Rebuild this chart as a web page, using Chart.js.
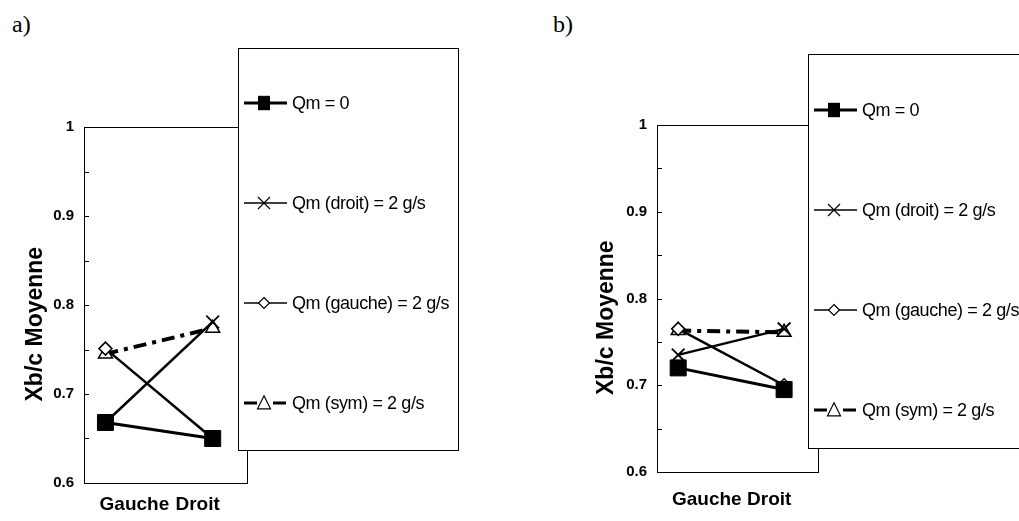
<!DOCTYPE html>
<html>
<head>
<meta charset="utf-8">
<script src="https://cdn.jsdelivr.net/npm/chart.js@4.4.1/dist/chart.umd.min.js"></script>
<style>
  body { margin: 0; background: #fff; width: 1019px; height: 521px; overflow: hidden; position: relative; }
  canvas { position: absolute; top: 0; }
  .tag { position: absolute; top: 11px; font: 24px "Liberation Serif", serif; color: #000; }
</style>
</head>
<body>
<div class="tag" style="left:12px">a)</div>
<div class="tag" style="left:553px">b)</div>
<canvas id="chartA" width="509" height="521" style="left:0"></canvas>
<canvas id="chartB" width="510" height="521" style="left:509px"></canvas>
<script>
// categories and series names
var categories = ['Gauche', 'Droit'];
var seriesNames = ['Qm = 0', 'Qm (droit) = 2 g/s', 'Qm (gauche) = 2 g/s', 'Qm (sym) = 2 g/s'];

// panel a)
var qm0A    = [0.668, 0.650];
var droitA  = [0.668, 0.781];
var gaucheA = [0.751, 0.650];
var symA    = [0.745, 0.774];

// panel b)
var qm0B    = [0.720, 0.695];
var droitB  = [0.735, 0.765];
var gaucheB = [0.765, 0.700];
var symB    = [0.763, 0.761];

// y axis
var yMin = 0.6, yMax = 1, yStep = 0.05;
var yTitle = 'Xb/c Moyenne';

// where the category names sit along x (x scale units)
var labelPos = [0.27, 0.86];

function toPoints(vals) {
  return vals.map(function (v, i) { return { x: i, y: v }; });
}

function drawMark(ctx, style, x, y, r, fill, lw) {
  ctx.save();
  ctx.setLineDash([]);
  ctx.lineWidth = lw;
  ctx.strokeStyle = '#000';
  ctx.fillStyle = fill;
  ctx.beginPath();
  if (style === 'rect') {
    ctx.rect(x - r * 0.5, y - r * 0.6, r, r * 1.2);
    ctx.fill();
  } else if (style === 'crossRot') {
    ctx.moveTo(x - r / 2, y - r / 2); ctx.lineTo(x + r / 2, y + r / 2);
    ctx.moveTo(x + r / 2, y - r / 2); ctx.lineTo(x - r / 2, y + r / 2);
    ctx.stroke();
  } else if (style === 'rectRot') {
    ctx.moveTo(x, y - r / 2); ctx.lineTo(x + r / 2, y);
    ctx.lineTo(x, y + r / 2); ctx.lineTo(x - r / 2, y);
    ctx.closePath(); ctx.fill(); ctx.stroke();
  } else {
    ctx.moveTo(x, y - r * 0.55); ctx.lineTo(x + r / 2, y + r * 0.45);
    ctx.lineTo(x - r / 2, y + r * 0.45);
    ctx.closePath(); ctx.fill(); ctx.stroke();
  }
  ctx.restore();
}

// plot frame + inward ticks
var frame = {
  id: 'frame',
  beforeDatasetsDraw: function (chart) {
    var a = chart.chartArea, ctx = chart.ctx, ys = chart.scales.y;
    ctx.save();
    ctx.strokeStyle = '#000';
    ctx.lineWidth = 1;
    ctx.strokeRect(Math.round(a.left) + 0.5, Math.round(a.top) + 0.5,
      Math.round(a.right - a.left), Math.round(a.bottom - a.top));
    ctx.beginPath();
    ys.ticks.forEach(function (t) {
      var py = Math.round(ys.getPixelForValue(t.value)) + 0.5;
      ctx.moveTo(a.left, py);
      ctx.lineTo(a.left + 5, py);
    });
    ctx.stroke();
    ctx.restore();
  }
};

// the tall legend box beside the plot
var boxLegend = {
  id: 'boxLegend',
  afterDraw: function (chart, args, o) {
    var ctx = chart.ctx;
    ctx.save();
    ctx.fillStyle = '#fff';
    ctx.fillRect(o.x, o.y, o.w, o.h);
    ctx.strokeStyle = '#000';
    ctx.lineWidth = 1;
    ctx.strokeRect(o.x + 0.5, o.y + 0.5, o.w, o.h);
    chart.data.datasets.forEach(function (ds, i) {
      var y = o.y + o.first + i * o.gap;
      ctx.beginPath();
      ctx.setLineDash(ds.borderDash || []);
      ctx.lineWidth = ds.legendWidth;
      ctx.moveTo(o.x + 6, y);
      ctx.lineTo(o.x + 49, y);
      ctx.stroke();
      drawMark(ctx, ds.pointStyle, o.x + 26, y, ds.legendMark,
        ds.pointBackgroundColor, 1.2);
      ctx.fillStyle = '#000';
      ctx.font = '18px "Liberation Sans", Arial, sans-serif';
      ctx.letterSpacing = '-0.4px';
      ctx.textBaseline = 'middle';
      ctx.fillText(ds.label, o.x + 54, y + 1);
    });
    ctx.restore();
  }
};

function makeChart(id, series, L) {
  var styles = [
    { width: 3, dash: [], style: 'rect', radius: 11.3, fill: '#000', lw: 1, lg: 3, mark: 12 },
    { width: 2.5, dash: [], style: 'crossRot', radius: 9, fill: '#fff', lw: 1.8, lg: 1.5, mark: 12 },
    { width: 2.5, dash: [], style: 'rectRot', radius: 6.5, fill: '#fff', lw: 1.5, lg: 1.5, mark: 11 },
    { width: 4, dash: [13, 6, 4, 6], style: 'triangle', radius: 8, fill: '#fff', lw: 1.5, lg: 3, mark: 13 }
  ];
  var datasets = series.map(function (vals, i) {
    var s = styles[i];
    return {
      label: seriesNames[i],
      data: toPoints(vals),
      borderColor: '#000',
      borderWidth: s.width,
      borderDash: s.dash,
      borderCapStyle: 'butt',
      pointStyle: s.style,
      pointRadius: s.radius,
      pointBackgroundColor: s.fill,
      pointBorderColor: '#000',
      pointBorderWidth: s.lw,
      legendWidth: s.lg,
      legendMark: s.mark,
      fill: false,
      tension: 0
    };
  });

  return new Chart(document.getElementById(id), {
    type: 'line',
    data: { datasets: datasets },
    plugins: [frame, boxLegend],
    options: {
      responsive: false,
      animation: false,
      layout: { padding: { left: 0, top: L.top, right: L.padRight, bottom: 0 } },
      plugins: {
        legend: { display: false },
        tooltip: { enabled: false },
        boxLegend: L.legend
      },
      scales: {
        x: {
          type: 'linear',
          min: -0.2,
          max: 1.32,
          grid: { display: false, drawTicks: false },
          border: { display: false },
          afterBuildTicks: function (scale) {
            scale.ticks = labelPos.map(function (v) { return { value: v }; });
          },
          afterFit: function (scale) { scale.height = L.xHeight; },
          ticks: {
            color: '#000',
            padding: L.xPad,
            maxRotation: 0,
            autoSkip: false,
            font: { family: '"Liberation Sans", Arial, sans-serif', size: 19, weight: 'bold' },
            callback: function (v, i) { return categories[i]; }
          }
        },
        y: {
          min: yMin,
          max: yMax,
          grid: { display: false, drawTicks: false },
          border: { display: false },
          afterFit: function (scale) { scale.width = L.yWidth; },
          ticks: {
            stepSize: yStep,
            color: '#000',
            padding: 10,
            autoSkip: false,
            font: { family: '"Liberation Sans", Arial, sans-serif', size: 15, weight: 'bold' },
            callback: function (v) {
              var k = Math.round(v * 100);
              if (k % 10 !== 0) return '';
              return k === 100 ? '1' : (k / 100).toFixed(1);
            }
          },
          title: {
            display: true,
            // trailing spaces push the visible words a little below the axis middle
            text: yTitle + '\u00a0\u00a0\u00a0\u00a0\u00a0\u00a0',
            color: '#000',
            padding: { top: L.titlePad, bottom: 0 },
            font: { family: '"Liberation Sans", Arial, sans-serif', size: 23, weight: 'bold' }
          }
        }
      }
    }
  });
}

makeChart('chartA', [qm0A, droitA, gaucheA, symA], {
  top: 127, padRight: 509 - 247, xHeight: 521 - 483, xPad: 10, yWidth: 84, titlePad: 22,
  legend: { x: 238, y: 48, w: 220, h: 402, first: 55, gap: 100 }
});

makeChart('chartB', [qm0B, droitB, gaucheB, symB], {
  top: 125, padRight: 510 - 309, xHeight: 521 - 472, xPad: 16, yWidth: 148, titlePad: 84,
  legend: { x: 299, y: 54, w: 230, h: 394, first: 56, gap: 100 }
});
</script>
</body>
</html>
